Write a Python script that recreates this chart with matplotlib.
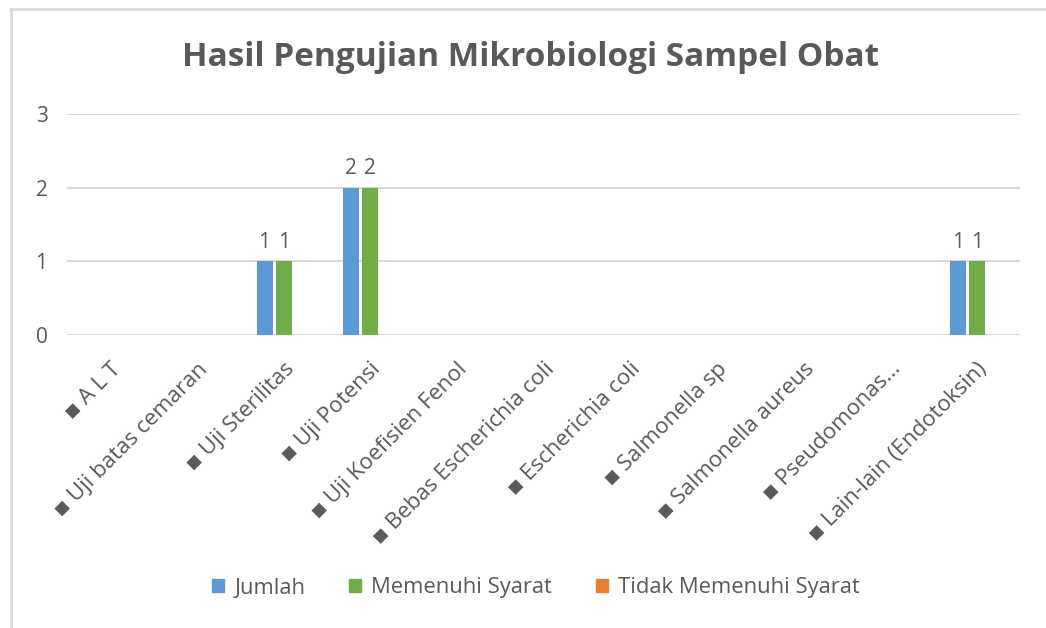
import matplotlib
matplotlib.use("Agg")
import matplotlib.pyplot as plt
import numpy as np
from matplotlib.lines import Line2D
from matplotlib.patches import Patch

categories = ["A L T", "Uji batas cemaran", "Uji Sterilitas", "Uji Potensi",
              "Uji Koefisien Fenol", "Bebas Escherichia coli", "Escherichia coli",
              "Salmonella sp", "Salmonella aureus", "Pseudomonas...",
              "Lain-lain (Endotoksin)"]
jumlah = [0, 0, 1, 2, 0, 0, 0, 0, 0, 0, 1]
memenuhi = [0, 0, 1, 2, 0, 0, 0, 0, 0, 0, 1]
tidak_memenuhi = [0, 0, 0, 0, 0, 0, 0, 0, 0, 0, 0]
series_names = ["Jumlah", "Memenuhi Syarat", "Tidak Memenuhi Syarat"]
colors = ["#5B9BD5", "#70AD47", "#ED7D31"]
title = "Hasil Pengujian Mikrobiologi Sampel Obat"

plt.rcParams['font.family'] = ['Open Sans', 'DejaVu Sans']
text_color = "#595959"

W, H = 1046, 628
fig = plt.figure(figsize=(W / 100, H / 100), dpi=100)
fig.patch.set_facecolor("white")

# chart frame lines (top and left visible)
fig.add_artist(Line2D([11 / W, 11 / W], [0, 1 - 9 / H], transform=fig.transFigure,
                      color="#D9D9D9", lw=2))
fig.add_artist(Line2D([11 / W, 1], [1 - 9 / H, 1 - 9 / H], transform=fig.transFigure,
                      color="#D9D9D9", lw=2))

ax = fig.add_axes([67 / W, 1 - 335 / H, (1020 - 67) / W, (335 - 114) / H])
x = np.arange(len(categories))
bw = 0.185
step = 0.22
all_series = [jumlah, memenuhi, tidak_memenuhi]
for i, (vals, c) in enumerate(zip(all_series, colors)):
    bars = ax.bar(x + (i - 1) * step, vals, width=bw, color=c, zorder=3)
    for b, v in zip(bars, vals):
        if v != 0:
            ax.annotate(f"{v}", (b.get_x() + b.get_width() / 2, v),
                        xytext=(0, 6), textcoords="offset points",
                        ha="center", va="bottom", fontsize=15, color=text_color)

ax.set_xlim(-0.5, len(categories) - 0.5)
ax.set_ylim(0, 3)
ax.set_yticks([0, 1, 2, 3])
ax.yaxis.grid(True, color="#D9D9D9", lw=1.5, zorder=0)
ax.set_axisbelow(True)
for s in ax.spines.values():
    s.set_visible(False)
ax.tick_params(axis="both", length=0, labelsize=15, labelcolor=text_color)
ax.tick_params(axis="y", pad=14)
ax.set_xticks(x)
ax.set_xticklabels(["\u25aa " + c for c in categories], rotation=45, ha="right",
                   rotation_mode="anchor", fontsize=16)
ax.tick_params(axis="x", pad=17)

fig.text(531 / W, 1 - 57 / H, title, ha="center", va="center", fontsize=24,
         fontweight="bold", color=text_color)

handles = [Patch(facecolor=c, edgecolor=c) for c in colors]
fig.legend(handles, series_names, loc="center", bbox_to_anchor=(536 / W, 1 - 588 / H),
           ncol=3, frameon=False, fontsize=15.8, labelcolor=text_color,
           handlelength=0.55, handleheight=0.55, handletextpad=0.45, columnspacing=2.0)

fig.savefig("out.png", dpi=100, facecolor="white")
